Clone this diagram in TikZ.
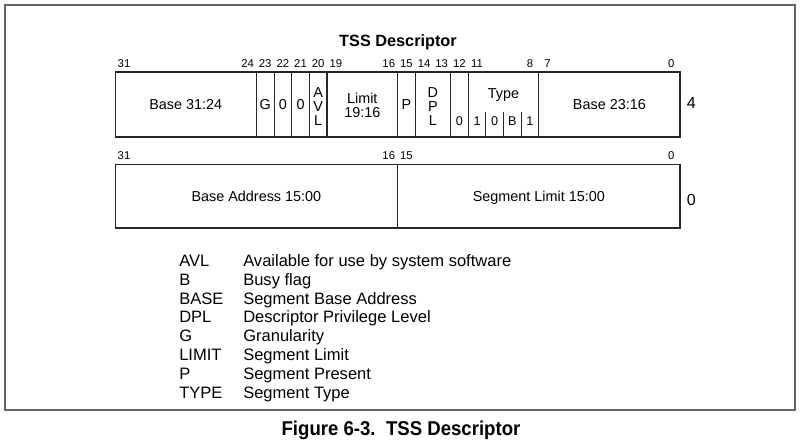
\documentclass[tikz,border=0pt]{standalone}
\usepackage{fontspec}
\setmainfont{Liberation Sans}
\usepackage{graphicx}
\usepackage{tikz}

\begin{document}
\begin{tikzpicture}[x=0.75pt, y=-0.75pt,
  every node/.style={inner sep=0pt},
  bitno/.style={font=\fontsize{8.5}{8.5}\selectfont, text height=6.1pt, text depth=0pt},
  field/.style={font=\fontsize{10.8}{10.5}\selectfont, text height=7.7pt, text depth=0pt},
  typebit/.style={font=\fontsize{9.5}{9.5}\selectfont, text height=6.8pt, text depth=0pt},
  stacked/.style={font=\fontsize{10.8}{10.5}\selectfont, align=center},
  offset/.style={font=\fontsize{12}{12}\selectfont, text height=8.6pt, text depth=0pt, anchor=west},
  legend/.style={font=\fontsize{12.4}{14}\selectfont, anchor=base west},
  reg/.style={draw=black!85, line width=0.8pt}]

\useasboundingbox (0,0) rectangle (800,446);

% Dimensions of the descriptor rows
\def\BW{17.65}  % width of one bit
\def\XR{680}    % right edge (bit 0)
\def\XL{115.2}  % left edge (bit 31)
\def\TA{72}  \def\BA{137}   % upper row, top and bottom
\def\TB{164.5} \def\BB{228} % lower row, top and bottom

% Outer frame
\draw[draw=black!60, line width=1.1pt] (5,5) rectangle (795,410);

\node[font=\fontsize{12.2}{12}\selectfont\bfseries] (title) at (398,42) {TSS Descriptor};

% Upper row
\draw[reg] (\XL,\TA) rectangle (\XR,\BA);
\foreach \b in {24,23,22,21,20,16,15,13,12,8}
  \draw[reg] ({\XR-\b*\BW},\TA) -- ({\XR-\b*\BW},\BA);
\foreach \b in {11,10,9}
  \draw[reg] ({\XR-\b*\BW},112) -- ({\XR-\b*\BW},\BA);

\foreach \b in {31,24,23,22,21,20,19,16,15,14,13,12,11,8,7,0}
  \node[bitno] (n\b) at ({\XR-(\b+0.5)*\BW},63) {\b};

\node[field] (base3124) at ({\XR-28*\BW},104.5) {Base 31:24};
\node[field] (g) at ({\XR-23.5*\BW},104.5) {G};
\node[field] (z22) at ({\XR-22.5*\BW},104.5) {0};
\node[field] (z21) at ({\XR-21.5*\BW},104.5) {0};
\node[stacked] (avl) at ({\XR-20.5*\BW},106.5) {A\\V\\L};
\node[stacked] (limit) at ({\XR-18*\BW},105) {Limit\\19:16};
\node[field] (p) at ({\XR-15.5*\BW},104.5) {P};
\node[stacked] (dpl) at ({\XR-14*\BW},106.5) {D\\P\\L};
\node[typebit] (z12) at ({\XR-12.5*\BW},121) {0};
\node[field] (type) at ({\XR-10*\BW},93) {Type};
\foreach \b/\t in {11/1,10/0,9/B,8/1}
  \node[typebit] (ty\b) at ({\XR-(\b+0.5)*\BW},121) {\t};
\node[field] (base2316) at ({\XR-4*\BW},104.5) {Base 23:16};
\node[offset] (off4) at (686.5,103) {4};

% Lower row
\draw[reg] (\XL,\TB) rectangle (\XR,\BB);
\draw[reg] ({\XR-16*\BW},\TB) -- ({\XR-16*\BW},\BB);

\foreach \b in {31,16,15,0}
  \node[bitno] (m\b) at ({\XR-(\b+0.5)*\BW},155) {\b};

\node[field] (baseaddr) at ({\XR-24*\BW},196.5) {Base Address 15:00};
\node[field] (seglimit) at ({\XR-8*\BW},196.5) {Segment Limit 15:00};
\node[offset] (off0) at (686.5,200) {0};

% Legend
\foreach \k/\v [count=\i from 0] in {AVL/Available for use by system software,
    B/Busy flag, BASE/Segment Base Address, DPL/Descriptor Privilege Level,
    G/Granularity, LIMIT/Segment Limit, P/Segment Present, TYPE/Segment Type}
{
  \node[legend] (key\i) at (179,{266.2+18.9*\i}) {\k};
  \node[legend] (val\i) at (243,{266.2+18.9*\i}) {\v};
}

% Caption
\node[font=\fontsize{15}{15}\selectfont\bfseries, text height=10.8pt, text depth=0pt] (caption) at (401,428)
  {\scalebox{0.93}[1]{Figure 6-3.~~TSS Descriptor}};

\end{tikzpicture}
\end{document}
